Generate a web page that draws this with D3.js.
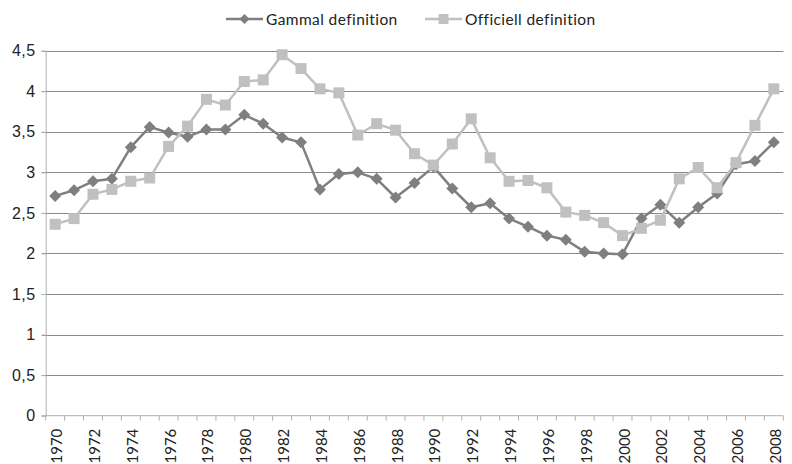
<!DOCTYPE html>
<html>
<head>
<meta charset="utf-8">
<script src="https://cdn.jsdelivr.net/npm/d3@7"></script>
<style>
  body { margin: 0; background: #fff; }
  svg { display: block; font-family: Lato, "Open Sans", sans-serif; }
</style>
</head>
<body>
<div id="chart"></div>
<script>
// years on the category axis
const years = d3.range(1970, 2009)

// Gammal definition (dark diamonds)
const gammal = [2.71, 2.78, 2.89, 2.92, 3.31, 3.56, 3.49, 3.44, 3.53, 3.53,
    3.71, 3.6, 3.43, 3.37, 2.79, 2.98, 3.0, 2.92, 2.69, 2.87,
    3.07, 2.8, 2.57, 2.62, 2.43, 2.33, 2.22, 2.17, 2.02, 2.0,
    1.99, 2.43, 2.6, 2.38, 2.57, 2.74, 3.1, 3.14, 3.37]

// Officiell definition (light squares)
const officiell = [2.36, 2.43, 2.73, 2.79, 2.89, 2.93, 3.32, 3.57, 3.9, 3.83,
    4.12, 4.14, 4.45, 4.28, 4.03, 3.98, 3.46, 3.6, 3.52, 3.23,
    3.09, 3.35, 3.66, 3.18, 2.89, 2.9, 2.81, 2.51, 2.47, 2.38,
    2.22, 2.31, 2.41, 2.92, 3.06, 2.81, 3.12, 3.58, 4.03]

const yTicks = d3.range(0, 4.51, 0.5)
const seriesNames = ['Gammal definition', 'Officiell definition']

const width = 792, height = 464
const plot = { left: 45.7, right: 783.3, top: 50.7, bottom: 415.7 }
const darkCol = '#7f7f7f', lightCol = '#c0c0c0'

const sv = d3.formatLocale({ decimal: ',', thousands: ' ', grouping: [3], currency: ['', ' kr'] })
const fmt = sv.format('.1~f')

const svg = d3.select('#chart').append('svg')
    .attr('width', width)
    .attr('height', height)

const x = d3.scaleBand().domain(years).range([plot.left, plot.right]).padding(0)
const y = d3.scaleLinear().domain([0, 4.5]).range([plot.bottom, plot.top])
const cx = (d) => x(d) + x.bandwidth() / 2

// gridlines
svg.append('g')
    .selectAll('line')
    .data(yTicks.filter(t => t > 0))
    .enter().append('line')
    .attr('x1', plot.left - 4).attr('x2', plot.right)
    .attr('y1', d => Math.round(y(d)) + 0.5).attr('y2', d => Math.round(y(d)) + 0.5)
    .attr('stroke', '#8a8a8a')
    .attr('stroke-width', 1)

// y axis
const yAxis = svg.append('g')
    .attr('transform', 'translate(' + plot.left + ',0)')
    .call(d3.axisLeft(y).tickValues(yTicks).tickFormat(fmt).tickSize(4).tickPadding(6))
yAxis.select('.domain').attr('stroke', '#b0b0b0')
yAxis.selectAll('.tick line').attr('stroke', '#b0b0b0')
yAxis.selectAll('text').attr('font-size', 16).attr('fill', '#222').attr('letter-spacing', 0.5)

// x axis: ticks between categories, labels every second year
const xAxis = svg.append('g').attr('transform', 'translate(0,' + plot.bottom + ')')
xAxis.append('line')
    .attr('x1', plot.left - 4).attr('x2', plot.right)
    .attr('stroke', '#b0b0b0')
xAxis.selectAll('.tk')
    .data(years.map(d => x(d)).concat([plot.right]))
    .enter().append('line')
    .attr('class', 'tk')
    .attr('x1', d => d).attr('x2', d => d)
    .attr('y1', 0).attr('y2', 5)
    .attr('stroke', '#b0b0b0')
xAxis.selectAll('text')
    .data(years.filter(d => d % 2 === 0))
    .enter().append('text')
    .attr('transform', d => 'translate(' + (cx(d) + 1) + ',13) rotate(-90)')
    .attr('text-anchor', 'end')
    .attr('dominant-baseline', 'central')
    .attr('font-size', 15)
    .attr('fill', '#222')
    .text(d => d)

const line = d3.line().x((d, i) => cx(years[i])).y(d => y(d))

const diamond = (s) => 'M0,' + (-s) + 'L' + s + ',0L0,' + s + 'L' + (-s) + ',0Z'
const square = (s) => 'M' + (-s) + ',' + (-s) + 'h' + (2 * s) + 'v' + (2 * s) + 'h' + (-2 * s) + 'Z'

// gammal series
svg.append('path')
    .datum(gammal)
    .attr('d', line)
    .attr('fill', 'none')
    .attr('stroke', darkCol)
    .attr('stroke-width', 2.5)
    .attr('stroke-linejoin', 'round')
svg.append('g').selectAll('path')
    .data(gammal)
    .enter().append('path')
    .attr('transform', (d, i) => 'translate(' + cx(years[i]) + ',' + y(d) + ')')
    .attr('d', diamond(6))
    .attr('fill', darkCol)

// officiell series
svg.append('path')
    .datum(officiell)
    .attr('d', line)
    .attr('fill', 'none')
    .attr('stroke', lightCol)
    .attr('stroke-width', 2.5)
    .attr('stroke-linejoin', 'round')
svg.append('g').selectAll('path')
    .data(officiell)
    .enter().append('path')
    .attr('transform', (d, i) => 'translate(' + cx(years[i]) + ',' + y(d) + ')')
    .attr('d', square(5.5))
    .attr('fill', lightCol)

// legend
const legend = svg.append('g')
const legItems = [
    { name: seriesNames[0], col: darkCol, shape: diamond(5), x0: 226 },
    { name: seriesNames[1], col: lightCol, shape: square(5), x0: 425 }
]
legItems.forEach(it => {
    const lg = legend.append('g').attr('transform', 'translate(' + it.x0 + ',19)')
    lg.append('line').attr('x1', 0).attr('x2', 37).attr('stroke', it.col).attr('stroke-width', 2.5)
    lg.append('path').attr('transform', 'translate(18.5,0)').attr('d', it.shape).attr('fill', it.col)
    lg.append('text')
        .attr('x', 40)
        .attr('dominant-baseline', 'central')
        .attr('font-size', 15.5)
        .attr('letter-spacing', 0.4)
        .attr('fill', '#222')
        .text(it.name)
})
</script>
</body>
</html>
